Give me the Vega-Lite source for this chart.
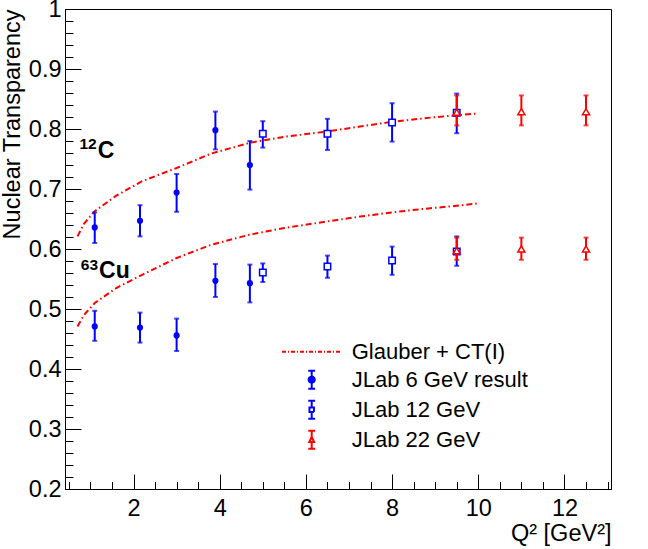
{
  "$schema": "https://vega.github.io/schema/vega-lite/v6.json",
  "width": 546,
  "height": 480,
  "autosize": {"type": "none"},
  "padding": {"left": 65, "top": 9, "right": 37, "bottom": 60},
  "background": "white",
  "config": {
    "view": {"stroke": "#000", "strokeWidth": 1},
    "font": "Liberation Sans",
    "axis": {
      "grid": false,
      "domainColor": "#000",
      "domainWidth": 1,
      "tickColor": "#000",
      "tickWidth": 1,
      "labelColor": "#000",
      "titleColor": "#000",
      "labelFont": "Liberation Sans",
      "titleFont": "Liberation Sans",
      "labelFontSize": 23.5,
      "titleFontSize": 23.5,
      "titleFontWeight": "normal",
      "labelFlush": false,
      "labelOverlap": false
    },
    "legend": {
      "orient": "none",
      "legendX": 235.7,
      "legendY": 331.7,
      "padding": 0,
      "rowPadding": 4,
      "labelOffset": 29,
      "symbolOffset": 0,
      "symbolSize": 324,
      "symbolStrokeWidth": 2,
      "symbolOpacity": 1,
      "labelFont": "Liberation Sans",
      "labelFontSize": 22,
      "labelColor": "#000",
      "labelLimit": 400
    }
  },
  "datasets": {
    "theory": [
      {"q2": 0.7, "t": 0.621, "nucleus": "12C"},
      {"q2": 0.85, "t": 0.642, "nucleus": "12C"},
      {"q2": 1.1, "t": 0.663, "nucleus": "12C"},
      {"q2": 1.6, "t": 0.689, "nucleus": "12C"},
      {"q2": 2.2, "t": 0.713, "nucleus": "12C"},
      {"q2": 3.0, "t": 0.735, "nucleus": "12C"},
      {"q2": 3.8, "t": 0.759, "nucleus": "12C"},
      {"q2": 4.7, "t": 0.777, "nucleus": "12C"},
      {"q2": 5.5, "t": 0.787, "nucleus": "12C"},
      {"q2": 6.5, "t": 0.796, "nucleus": "12C"},
      {"q2": 7.25, "t": 0.804, "nucleus": "12C"},
      {"q2": 8.0, "t": 0.812, "nucleus": "12C"},
      {"q2": 8.75, "t": 0.818, "nucleus": "12C"},
      {"q2": 9.5, "t": 0.823, "nucleus": "12C"},
      {"q2": 10.0, "t": 0.826, "nucleus": "12C"},
      {"q2": 0.7, "t": 0.471, "nucleus": "63Cu"},
      {"q2": 0.85, "t": 0.49, "nucleus": "63Cu"},
      {"q2": 1.1, "t": 0.51, "nucleus": "63Cu"},
      {"q2": 1.6, "t": 0.535, "nucleus": "63Cu"},
      {"q2": 2.2, "t": 0.557, "nucleus": "63Cu"},
      {"q2": 3.0, "t": 0.585, "nucleus": "63Cu"},
      {"q2": 3.8, "t": 0.607, "nucleus": "63Cu"},
      {"q2": 4.7, "t": 0.624, "nucleus": "63Cu"},
      {"q2": 5.5, "t": 0.635, "nucleus": "63Cu"},
      {"q2": 6.5, "t": 0.646, "nucleus": "63Cu"},
      {"q2": 7.25, "t": 0.654, "nucleus": "63Cu"},
      {"q2": 8.0, "t": 0.661, "nucleus": "63Cu"},
      {"q2": 8.75, "t": 0.667, "nucleus": "63Cu"},
      {"q2": 9.5, "t": 0.672, "nucleus": "63Cu"},
      {"q2": 10.0, "t": 0.676, "nucleus": "63Cu"}
    ],
    "points": [
      {"q2": 1.1, "t": 0.636, "lo": 0.61, "hi": 0.661, "nucleus": "12C", "series": "JLab 6 GeV result"},
      {"q2": 2.15, "t": 0.647, "lo": 0.621, "hi": 0.673, "nucleus": "12C", "series": "JLab 6 GeV result"},
      {"q2": 3.0, "t": 0.694, "lo": 0.662, "hi": 0.725, "nucleus": "12C", "series": "JLab 6 GeV result"},
      {"q2": 3.9, "t": 0.798, "lo": 0.766, "hi": 0.829, "nucleus": "12C", "series": "JLab 6 GeV result"},
      {"q2": 4.7, "t": 0.74, "lo": 0.699, "hi": 0.78, "nucleus": "12C", "series": "JLab 6 GeV result"},
      {"q2": 5.0, "t": 0.792, "lo": 0.769, "hi": 0.813, "nucleus": "12C", "series": "JLab 12 GeV"},
      {"q2": 6.5, "t": 0.792, "lo": 0.765, "hi": 0.817, "nucleus": "12C", "series": "JLab 12 GeV"},
      {"q2": 8.0, "t": 0.811, "lo": 0.779, "hi": 0.843, "nucleus": "12C", "series": "JLab 12 GeV"},
      {"q2": 9.5, "t": 0.827, "lo": 0.793, "hi": 0.859, "nucleus": "12C", "series": "JLab 12 GeV"},
      {"q2": 9.5, "t": 0.828, "lo": 0.806, "hi": 0.856, "nucleus": "12C", "series": "JLab 22 GeV"},
      {"q2": 11.0, "t": 0.829, "lo": 0.806, "hi": 0.856, "nucleus": "12C", "series": "JLab 22 GeV"},
      {"q2": 12.5, "t": 0.829, "lo": 0.806, "hi": 0.856, "nucleus": "12C", "series": "JLab 22 GeV"},
      {"q2": 1.1, "t": 0.471, "lo": 0.447, "hi": 0.497, "nucleus": "63Cu", "series": "JLab 6 GeV result"},
      {"q2": 2.15, "t": 0.469, "lo": 0.444, "hi": 0.494, "nucleus": "63Cu", "series": "JLab 6 GeV result"},
      {"q2": 3.0, "t": 0.456, "lo": 0.43, "hi": 0.484, "nucleus": "63Cu", "series": "JLab 6 GeV result"},
      {"q2": 3.9, "t": 0.547, "lo": 0.52, "hi": 0.575, "nucleus": "63Cu", "series": "JLab 6 GeV result"},
      {"q2": 4.7, "t": 0.543, "lo": 0.511, "hi": 0.574, "nucleus": "63Cu", "series": "JLab 6 GeV result"},
      {"q2": 5.0, "t": 0.561, "lo": 0.545, "hi": 0.576, "nucleus": "63Cu", "series": "JLab 12 GeV"},
      {"q2": 6.5, "t": 0.571, "lo": 0.552, "hi": 0.589, "nucleus": "63Cu", "series": "JLab 12 GeV"},
      {"q2": 8.0, "t": 0.581, "lo": 0.557, "hi": 0.604, "nucleus": "63Cu", "series": "JLab 12 GeV"},
      {"q2": 9.5, "t": 0.596, "lo": 0.572, "hi": 0.621, "nucleus": "63Cu", "series": "JLab 12 GeV"},
      {"q2": 9.5, "t": 0.597, "lo": 0.582, "hi": 0.619, "nucleus": "63Cu", "series": "JLab 22 GeV"},
      {"q2": 11.0, "t": 0.6, "lo": 0.582, "hi": 0.619, "nucleus": "63Cu", "series": "JLab 22 GeV"},
      {"q2": 12.5, "t": 0.6, "lo": 0.582, "hi": 0.619, "nucleus": "63Cu", "series": "JLab 22 GeV"}
    ],
    "labels": [
      {"q2": 1.17, "t": 0.752, "mass": "12", "element": "C"},
      {"q2": 1.2, "t": 0.551, "mass": "63", "element": "Cu"}
    ],
    "legend": [
      {"series": "Glauber + CT(I)"},
      {"series": "JLab 6 GeV result"},
      {"series": "JLab 12 GeV"},
      {"series": "JLab 22 GeV"}
    ]
  },
  "layer": [
    {
      "data": {"name": "theory"},
      "mark": {"type": "line", "color": "#ff0000", "strokeWidth": 2, "strokeDash": [6, 3, 1.5, 3]},
      "encoding": {
        "x": {
          "field": "q2", "type": "quantitative",
          "scale": {"domain": [0.41, 13.08], "nice": false, "zero": false},
          "axis": {"orient": "bottom", "values": [2, 4, 6, 8, 10, 12], "tickSize": -15, "labelPadding": 22, "title": "Q² [GeV²]", "titleAnchor": "end", "titlePadding": 2}
        },
        "y": {
          "field": "t", "type": "quantitative",
          "scale": {"domain": [0.2, 1.0], "nice": false, "zero": false},
          "axis": {"orient": "left", "values": [0.2, 0.3, 0.4, 0.5, 0.6, 0.7, 0.8, 0.9, 1.0], "format": "~g", "tickSize": -16, "labelPadding": 20, "title": "Nuclear Transparency", "titleAnchor": "end", "titlePadding": 4}
        },
        "detail": {"field": "nucleus"}
      }
    },
    {
      "data": {"name": "points"},
      "transform": [{"filter": "datum.series != 'JLab 22 GeV'"}],
      "mark": {"type": "rule", "color": "#0000ff", "strokeWidth": 2},
      "encoding": {
        "x": {
          "field": "q2", "type": "quantitative",
          "scale": {"domain": [0.41, 13.08], "nice": false, "zero": false},
          "axis": {"orient": "bottom", "values": [0.5, 1, 1.5, 2.5, 3, 3.5, 4.5, 5, 5.5, 6.5, 7, 7.5, 8.5, 9, 9.5, 10.5, 11, 11.5, 12.5, 13], "labels": false, "domain": false, "tickSize": -7.5, "title": null}
        },
        "y": {
          "field": "lo", "type": "quantitative",
          "scale": {"domain": [0.2, 1.0], "nice": false, "zero": false},
          "axis": {"orient": "left", "values": [0.22, 0.24, 0.26, 0.28, 0.32, 0.34, 0.36, 0.38, 0.42, 0.44, 0.46, 0.48, 0.52, 0.54, 0.56, 0.58, 0.62, 0.64, 0.66, 0.68, 0.72, 0.74, 0.76, 0.78, 0.82, 0.84, 0.86, 0.88, 0.92, 0.94, 0.96, 0.98], "labels": false, "domain": false, "tickSize": -8, "title": null}
        },
        "y2": {"field": "hi"}
      }
    },
    {
      "data": {"name": "points"},
      "transform": [
        {"filter": "datum.series != 'JLab 22 GeV'"},
        {"fold": ["lo", "hi"], "as": ["end", "val"]}
      ],
      "mark": {"type": "tick", "orient": "horizontal", "color": "#0000ff", "size": 5, "thickness": 2},
      "encoding": {
        "x": {"field": "q2", "type": "quantitative", "scale": {"domain": [0.41, 13.08], "nice": false, "zero": false}, "axis": null},
        "y": {"field": "val", "type": "quantitative", "scale": {"domain": [0.2, 1.0], "nice": false, "zero": false}, "axis": null}
      }
    },
    {
      "data": {"name": "points"},
      "transform": [{"filter": "datum.series == 'JLab 6 GeV result'"}],
      "mark": {"type": "point", "shape": "circle", "filled": true, "color": "#0000ff", "opacity": 1, "size": 38},
      "encoding": {
        "x": {"field": "q2", "type": "quantitative", "scale": {"domain": [0.41, 13.08], "nice": false, "zero": false}, "axis": null},
        "y": {"field": "t", "type": "quantitative", "scale": {"domain": [0.2, 1.0], "nice": false, "zero": false}, "axis": null}
      }
    },
    {
      "data": {"name": "points"},
      "transform": [{"filter": "datum.series == 'JLab 12 GeV'"}],
      "mark": {"type": "point", "shape": "square", "fill": "white", "stroke": "#0000ff", "strokeWidth": 1.5, "opacity": 1, "size": 42},
      "encoding": {
        "x": {"field": "q2", "type": "quantitative", "scale": {"domain": [0.41, 13.08], "nice": false, "zero": false}, "axis": null},
        "y": {"field": "t", "type": "quantitative", "scale": {"domain": [0.2, 1.0], "nice": false, "zero": false}, "axis": null}
      }
    },
    {
      "data": {"name": "points"},
      "transform": [{"filter": "datum.series == 'JLab 22 GeV'"}],
      "mark": {"type": "rule", "color": "#ff0000", "strokeWidth": 2},
      "encoding": {
        "x": {"field": "q2", "type": "quantitative", "scale": {"domain": [0.41, 13.08], "nice": false, "zero": false}, "axis": null},
        "y": {"field": "lo", "type": "quantitative", "scale": {"domain": [0.2, 1.0], "nice": false, "zero": false}, "axis": null},
        "y2": {"field": "hi"}
      }
    },
    {
      "data": {"name": "points"},
      "transform": [
        {"filter": "datum.series == 'JLab 22 GeV'"},
        {"fold": ["lo", "hi"], "as": ["end", "val"]}
      ],
      "mark": {"type": "tick", "orient": "horizontal", "color": "#ff0000", "size": 5, "thickness": 2},
      "encoding": {
        "x": {"field": "q2", "type": "quantitative", "scale": {"domain": [0.41, 13.08], "nice": false, "zero": false}, "axis": null},
        "y": {"field": "val", "type": "quantitative", "scale": {"domain": [0.2, 1.0], "nice": false, "zero": false}, "axis": null}
      }
    },
    {
      "data": {"name": "points"},
      "transform": [{"filter": "datum.series == 'JLab 22 GeV'"}],
      "mark": {"type": "point", "shape": "triangle-up", "fill": "white", "stroke": "#ff0000", "strokeWidth": 1.5, "opacity": 1, "size": 50},
      "encoding": {
        "x": {"field": "q2", "type": "quantitative", "scale": {"domain": [0.41, 13.08], "nice": false, "zero": false}, "axis": null},
        "y": {"field": "t", "type": "quantitative", "scale": {"domain": [0.2, 1.0], "nice": false, "zero": false}, "axis": null}
      }
    },
    {
      "data": {"name": "labels"},
      "mark": {"type": "text", "align": "left", "baseline": "alphabetic", "font": "Liberation Sans", "fontWeight": "bold", "fontSize": 23, "color": "#000"},
      "encoding": {
        "x": {"field": "q2", "type": "quantitative", "scale": {"domain": [0.41, 13.08], "nice": false, "zero": false}, "axis": null},
        "y": {"field": "t", "type": "quantitative", "scale": {"domain": [0.2, 1.0], "nice": false, "zero": false}, "axis": null},
        "text": {"field": "element"}
      }
    },
    {
      "data": {"name": "labels"},
      "mark": {"type": "text", "align": "right", "baseline": "alphabetic", "dx": -1, "dy": -8.5, "font": "Liberation Sans", "fontWeight": "bold", "fontSize": 15.5, "color": "#000"},
      "encoding": {
        "x": {"field": "q2", "type": "quantitative", "scale": {"domain": [0.41, 13.08], "nice": false, "zero": false}, "axis": null},
        "y": {"field": "t", "type": "quantitative", "scale": {"domain": [0.2, 1.0], "nice": false, "zero": false}, "axis": null},
        "text": {"field": "mass"}
      }
    },
    {
      "data": {"name": "legend"},
      "mark": {"type": "point", "opacity": 0, "size": 324},
      "encoding": {
        "shape": {
          "field": "series", "type": "nominal", "title": null,
          "scale": {
            "domain": ["Glauber + CT(I)", "JLab 6 GeV result", "JLab 12 GeV", "JLab 22 GeV"],
            "range": [
              "M-3.3,0L3.3,0",
              "M0,-1L0,1M-0.38,-1L0.38,-1M-0.38,1L0.38,1M0.34,0A0.34,0.34,0,1,1,-0.34,0A0.34,0.34,0,1,1,0.34,0Z",
              "M0,-1L0,-0.25M0,0.25L0,1M-0.38,-1L0.38,-1M-0.38,1L0.38,1M-0.25,-0.25L0.25,-0.25L0.25,0.25L-0.25,0.25Z",
              "M0,-1L0,-0.3M0,0.25L0,1M-0.38,-1L0.38,-1M-0.38,1L0.38,1M0,-0.3L0.27,0.25L-0.27,0.25Z"
            ]
          }
        },
        "color": {
          "field": "series", "type": "nominal", "title": null,
          "scale": {"domain": ["Glauber + CT(I)", "JLab 6 GeV result", "JLab 12 GeV", "JLab 22 GeV"], "range": ["#ff0000", "#0000ff", "#0000ff", "#ff0000"]}
        },
        "fill": {
          "field": "series", "type": "nominal", "title": null,
          "scale": {"domain": ["Glauber + CT(I)", "JLab 6 GeV result", "JLab 12 GeV", "JLab 22 GeV"], "range": ["transparent", "#0000ff", "white", "white"]}
        },
        "strokeDash": {
          "field": "series", "type": "nominal", "title": null,
          "scale": {"domain": ["Glauber + CT(I)", "JLab 6 GeV result", "JLab 12 GeV", "JLab 22 GeV"], "range": [[4, 2, 1, 2], [1, 0], [1, 0], [1, 0]]}
        }
      }
    }
  ],
  "resolve": {"axis": {"x": "independent", "y": "independent"}}
}
